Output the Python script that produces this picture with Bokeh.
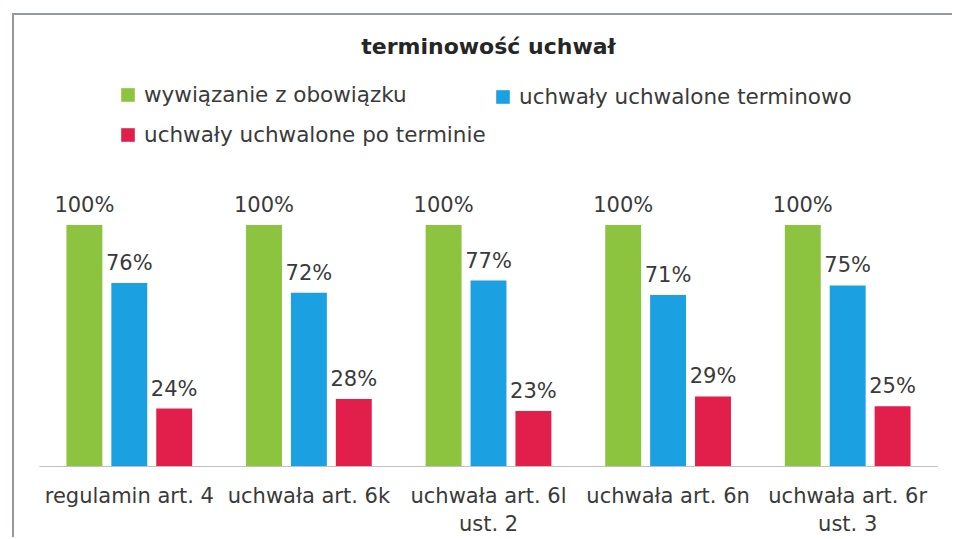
from bokeh.plotting import figure
from bokeh.models import ColumnDataSource, Legend, LegendItem, LabelSet, Range1d, FactorRange
from bokeh.transform import dodge
from bokeh.core.properties import value
from bokeh.embed import file_html
from bokeh.resources import INLINE

categories = ["regulamin art. 4", "uchwała art. 6k", "uchwała art. 6l\nust. 2",
              "uchwała art. 6n", "uchwała art. 6r\nust. 3"]
series_names = ["wywiązanie z obowiązku", "uchwały uchwalone terminowo",
                "uchwały uchwalone po terminie"]
wywiazanie = [1.00, 1.00, 1.00, 1.00, 1.00]
terminowo = [0.76, 0.72, 0.77, 0.71, 0.75]
po_terminie = [0.24, 0.28, 0.23, 0.29, 0.25]

colors = ["#8CC43F", "#1BA1E2", "#E21E4B"]
offsets = [-0.25, 0.0, 0.25]
series = [wywiazanie, terminowo, po_terminie]

FONT = "DejaVu Sans"
TXT = "#3a3a3a"
FS = "21px"

W, H = 940, 524
TOP, BOTTOM = 48, 72
p = figure(width=W, height=H, x_range=FactorRange(*categories, range_padding=0),
           y_range=Range1d(0, (H - TOP - BOTTOM) / 242),
           output_backend="svg", toolbar_location=None,
           min_border_left=25, min_border_right=17, min_border_top=TOP,
           min_border_bottom=BOTTOM,
           title="terminowość uchwał",
           styles={"box-shadow": "-2px -2px 0 0 #959aa2",
                   "margin-top": "15px", "margin-left": "14px",
                   "margin-bottom": "-10px"})
p.outline_line_color = None
p.grid.visible = False
p.yaxis.visible = False
p.title.align = "center"
p.title.text_font = FONT
p.title.text_font_size = "22px"
p.title.text_font_style = "bold"
p.title.text_color = "#262626"

renderers = []
for name, vals, col, off in zip(series_names, series, colors, offsets):
    src = ColumnDataSource(dict(cat=categories, val=vals,
                                lab=[f"{round(v*100)}%" for v in vals]))
    r = p.vbar(x=dodge("cat", off, range=p.x_range), top="val", width=0.2,
               source=src, fill_color=col, line_color=None)
    renderers.append(r)
    lbl = LabelSet(x=dodge("cat", off, range=p.x_range), y="val", text="lab",
                   source=src, text_align="center", text_baseline="bottom",
                   y_offset=8, text_font=value(FONT), text_font_size=value(FS),
                   text_color=TXT)
    p.add_layout(lbl)

common = dict(glyph_width=17, glyph_height=17, label_text_font=FONT,
              label_text_font_size="21.5px", label_text_color=TXT,
              spacing=15, padding=0, margin=0, border_line_color=None,
              background_fill_alpha=0, label_standoff=8)
legend1 = Legend(items=[LegendItem(label=series_names[0], renderers=[renderers[0]]),
                        LegendItem(label=series_names[2], renderers=[renderers[2]])],
                 location=(80, 319), **common)
legend2 = Legend(items=[LegendItem(label=series_names[1], renderers=[renderers[1]])],
                 location=(455, 357), **common)
p.add_layout(legend1)
p.add_layout(legend2)

p.xaxis.axis_line_color = "#BFBFBF"
p.xaxis.major_tick_line_color = None
p.xaxis.minor_tick_line_color = None
p.xaxis.major_label_text_font = FONT
p.xaxis.major_label_text_font_size = FS
p.xaxis.major_label_text_color = TXT
p.xaxis.major_label_standoff = 11

open("out.html", "w").write(file_html(p, INLINE))
